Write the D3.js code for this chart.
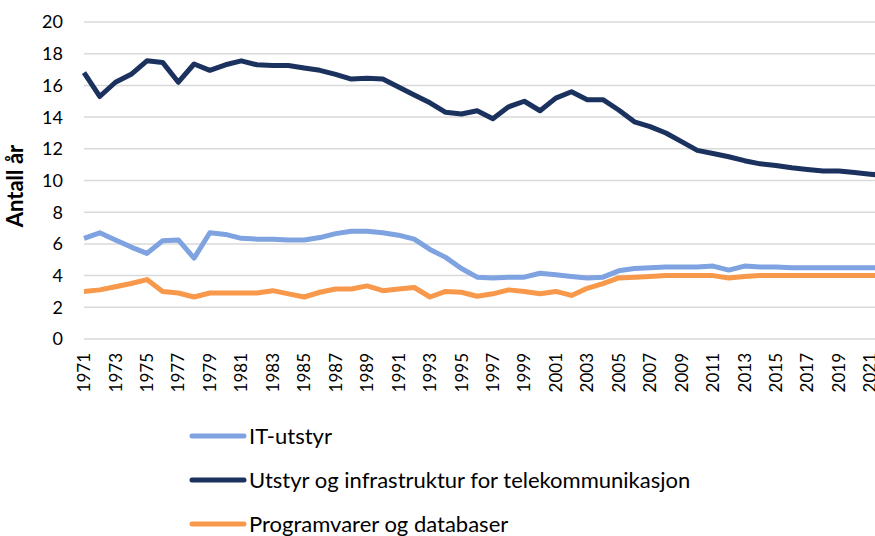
<!DOCTYPE html>
<html>
<head>
<meta charset="utf-8">
<script src="https://d3js.org/d3.v7.min.js"></script>
<style>
    body { margin: 0; padding: 0; background: #ffffff; }
    svg { display: block; }
    text { font-family: 'Lato', 'Liberation Sans', sans-serif; fill: #000; }
</style>
</head>
<body>
<div id="chart"></div>
<script>
    // data
    const years = d3.range(1971, 2023);
    const yTicks = [0, 2, 4, 6, 8, 10, 12, 14, 16, 18, 20];
    const xTickYears = d3.range(1971, 2022, 2);

    const itUtstyr = [
        6.35, 6.7, 6.25, 5.8, 5.4, 6.2, 6.25, 5.1, 6.7, 6.6,
        6.35, 6.3, 6.3, 6.25, 6.25, 6.4, 6.65, 6.8, 6.8, 6.7,
        6.55, 6.3, 5.65, 5.15, 4.45, 3.9, 3.85, 3.9, 3.9, 4.15,
        4.05, 3.95, 3.85, 3.9, 4.3, 4.45, 4.5, 4.55, 4.55, 4.55,
        4.6, 4.35, 4.6, 4.55, 4.55, 4.5, 4.5, 4.5, 4.5, 4.5,
        4.5, 4.5
    ];
    const telekom = [
        16.8, 15.3, 16.2, 16.7, 17.55, 17.45, 16.2, 17.35, 16.95, 17.3,
        17.55, 17.3, 17.25, 17.25, 17.1, 16.95, 16.7, 16.4, 16.45, 16.4,
        15.9, 15.4, 14.9, 14.3, 14.2, 14.4, 13.9, 14.65, 15.0, 14.4,
        15.2, 15.6, 15.1, 15.1, 14.45, 13.7, 13.4, 13.0, 12.45, 11.9,
        11.7, 11.5, 11.25, 11.05, 10.95, 10.8, 10.7, 10.6, 10.6, 10.5,
        10.4, 10.3
    ];
    const programvare = [
        3.0, 3.1, 3.3, 3.5, 3.75, 3.0, 2.9, 2.65, 2.9, 2.9,
        2.9, 2.9, 3.05, 2.85, 2.65, 2.95, 3.15, 3.15, 3.35, 3.05,
        3.15, 3.25, 2.65, 3.0, 2.95, 2.7, 2.85, 3.1, 3.0, 2.85,
        3.0, 2.75, 3.2, 3.5, 3.85, 3.9, 3.95, 4.0, 4.0, 4.0,
        4.0, 3.85, 3.95, 4.0, 4.0, 4.0, 4.0, 4.0, 4.0, 4.0,
        4.0, 4.0
    ];
    const seriesNames = ["IT-utstyr", "Utstyr og infrastruktur for telekommunikasjon", "Programvarer og databaser"];
    const seriesColors = ["#7ea3e0", "#1b315e", "#f7984a"];
    const seriesValues = [itUtstyr, telekom, programvare];

    const width = 875, height = 536;

    const svg = d3.select("#chart").append("svg")
        .attr("width", width)
        .attr("height", height);

    svg.append("rect").attr("width", width).attr("height", height).attr("fill", "#fff");

    // the last year sits just past the right edge, like the cropped original
    let x = d3.scalePoint().domain(years).range([84, 886]);
    let y = d3.scaleLinear().domain([0, 20]).range([339, 22]);

    // gridlines
    svg.append("g")
        .selectAll("line")
        .data(yTicks)
        .enter().append("line")
        .attr("x1", 84)
        .attr("x2", 886)
        .attr("y1", d => y(d))
        .attr("y2", d => y(d))
        .attr("stroke", "#d9d9d9")
        .attr("stroke-width", 1.5);

    // y tick labels
    svg.append("g")
        .selectAll("text")
        .data(yTicks)
        .enter().append("text")
        .attr("x", 63)
        .attr("y", d => y(d))
        .attr("dy", "0.36em")
        .attr("text-anchor", "end")
        .style("font-size", "18px")
        .text(d => d);

    // x tick labels, rotated
    svg.append("g")
        .selectAll("text")
        .data(xTickYears)
        .enter().append("text")
        .attr("transform", d => "translate(" + x(d) + ",353) rotate(-90)")
        .attr("dy", "0.36em")
        .attr("text-anchor", "end")
        .style("font-size", "17px")
        .text(d => d);

    // y axis title
    svg.append("text")
        .attr("transform", "translate(15,186) rotate(-90)")
        .attr("dy", "0.36em")
        .attr("text-anchor", "middle")
        .style("font-size", "22px")
        .style("font-weight", "bold")
        .text("Antall år");

    let line = d3.line()
        .x((d, i) => x(years[i]))
        .y(d => y(d));

    svg.append("g")
        .selectAll("path")
        .data(seriesValues)
        .enter().append("path")
        .attr("d", d => line(d))
        .attr("fill", "none")
        .attr("stroke", (d, i) => seriesColors[i])
        .attr("stroke-width", 5)
        .attr("stroke-linejoin", "round");

    // legend
    let legend = svg.append("g")
        .selectAll("g")
        .data(seriesNames)
        .enter().append("g")
        .attr("transform", (d, i) => "translate(190," + (436 + i * 44) + ")");

    legend.append("line")
        .attr("x1", 2).attr("x2", 54)
        .attr("stroke", (d, i) => seriesColors[i])
        .attr("stroke-width", 5)
        .attr("stroke-linecap", "round");

    legend.append("text")
        .attr("x", 59)
        .attr("dy", "0.36em")
        .style("font-size", "22px")
        .text(d => d);
</script>
</body>
</html>
